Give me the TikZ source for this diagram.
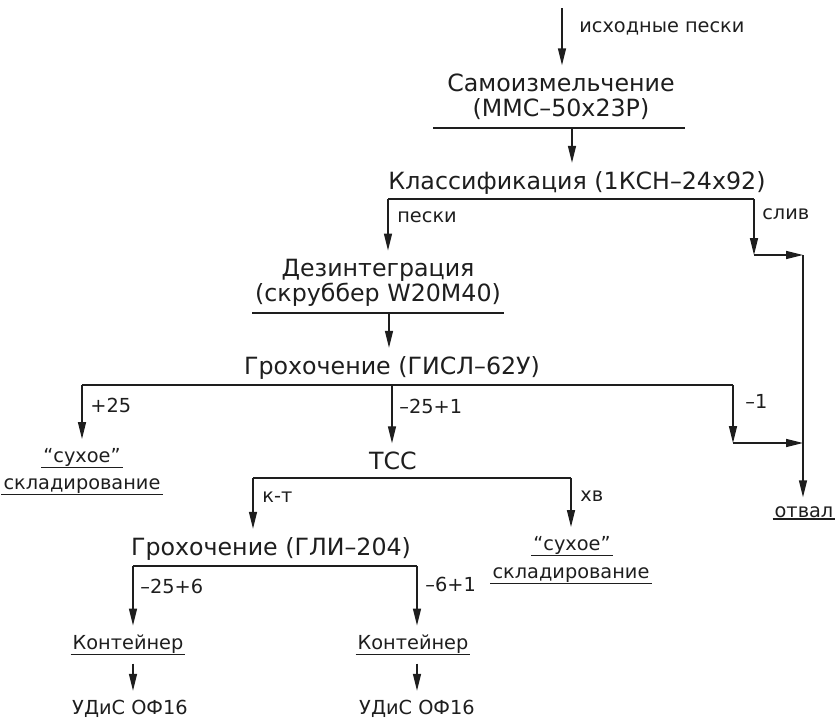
\documentclass[tikz,border=0pt]{standalone}
\usepackage{fontspec}
\setmainfont{DejaVu Sans}
\usepackage{xcolor}
\usepackage{tikz}
\usetikzlibrary{calc,arrows.meta,positioning}
\definecolor{inkc}{HTML}{1E1E1E}
\tikzset{
  ar/.style={-{Triangle[length=3.4mm,width=1.6mm]},line width=0.8pt,inkc},
  ln/.style={line width=0.8pt,inkc},
  op/.style={text=inkc,font=\fontsize{13.5}{14.2}\selectfont,align=center,inner sep=1pt,outer ysep=4pt},
  lb/.style={text=inkc,font=\fontsize{11}{13}\selectfont,anchor=west,inner sep=0pt},
  tx/.style={text=inkc,font=\fontsize{11}{13}\selectfont,anchor=base,inner sep=1pt,outer ysep=4pt},
  ul/.style={tx,append after command={([yshift=4pt]\tikzlastnode.south west) edge[ln,line width=0.7pt] ([yshift=4pt]\tikzlastnode.south east)}}
}
\begin{document}
\begin{tikzpicture}[x=0.02cm,y=-0.02cm]
\useasboundingbox (0,0) rectangle (836,720);
\node[op] (n1) at (561,97) {Самоизмельчение\\(ММС–50х23Р)};
\node[op] (n2) at (577,183) {Классификация (1КСН–24х92)};
\node[op] (n3) at (378,283) {Дезинтеграция\\(скруббер W20M40)};
\node[op] (n4) at (392,368) {Грохочение (ГИСЛ–62У)};
\node[op] (tss) at (393,461) {ТСС};
\node[op] (n7) at (271,549) {Грохочение (ГЛИ–204)};
\node[ul] (s1) at (82,462) {“сухое”};
\node[ul] (s1b) at (82,489) {складирование};
\node[ul] (s2) at (572,550) {“сухое”};
\node[ul] (s2b) at (571,578) {складирование};
\node[ul] (k1) at (128,649) {Контейнер};
\node[ul] (k2) at (413,649) {Контейнер};
\node[ul] (otv) at (804,517) {отвал};
\node[tx] (u1) at (130,714) {УДиС ОФ16};
\node[tx] (u2) at (417,714) {УДиС ОФ16};
\foreach \nm/\y/\xa/\xb in {b1/128/433/685,b2/199/388/754,b3/313/252/504,b4/385/82/733,b6/478/253/571,b7/566/133/417}{
  \coordinate (\nm w) at (\xa,\y);
  \coordinate (\nm e) at (\xb,\y);
  \draw[ln] (\nm w)--(\nm e);}
\coordinate (src) at (562,8);
\coordinate (b1m) at (572,128);
\coordinate (b3m) at (389,313);
\coordinate (b4m) at (392,385);
\coordinate (j1) at (754,255);
\coordinate (j2) at (803,255);
\coordinate (j3) at (733,443);
\draw[ar] (src)--(src |- n1.north);
\draw[ar] (b1m)--(b1m |- n2.north);
\draw[ar] (b2w)--(b2w |- n3.north);
\draw[ar] (b2e)--(j1);
\draw[ar] (j1)--(j2);
\draw[ar] (j2)--(j2 |- otv.north);
\draw[ar] (b3m)--(b3m |- n4.north);
\draw[ar] (b4w)--(b4w |- s1.north);
\draw[ar] (b4m)--(b4m |- tss.north);
\draw[ar] (b4e)--(j3);
\draw[ar] (j3)--(j3 -| j2);
\draw[ar] (b6w)--(b6w |- n7.north);
\draw[ar] (b6e)--(b6e |- s2.north);
\draw[ar] (b7w)--(b7w |- k1.north);
\draw[ar] (b7e)--(b7e |- k2.north);
\draw[ar,shorten <=1pt] (b7w |- k1.south)--(b7w |- u1.north);
\draw[ar,shorten <=1pt] (b7e |- k2.south)--(b7e |- u2.north);
\node[lb] (lsrc) at (579,28) {исходные пески};
\node[lb] (lpes) at (397,217) {пески};
\node[lb] (lsl) at (762,214) {слив};
\node[lb] (lp25) at (90,405) {+25};
\node[lb] (lm25) at (399,406) {–25+1};
\node[lb] (lm1) at (745,401) {–1};
\node[lb] (lkt) at (262,497) {к-т};
\node[lb] (lxv) at (580,496) {хв};
\node[lb] (lm256) at (140,586) {–25+6};
\node[lb] (lm61) at (425,584) {–6+1};
\end{tikzpicture}
\end{document}
